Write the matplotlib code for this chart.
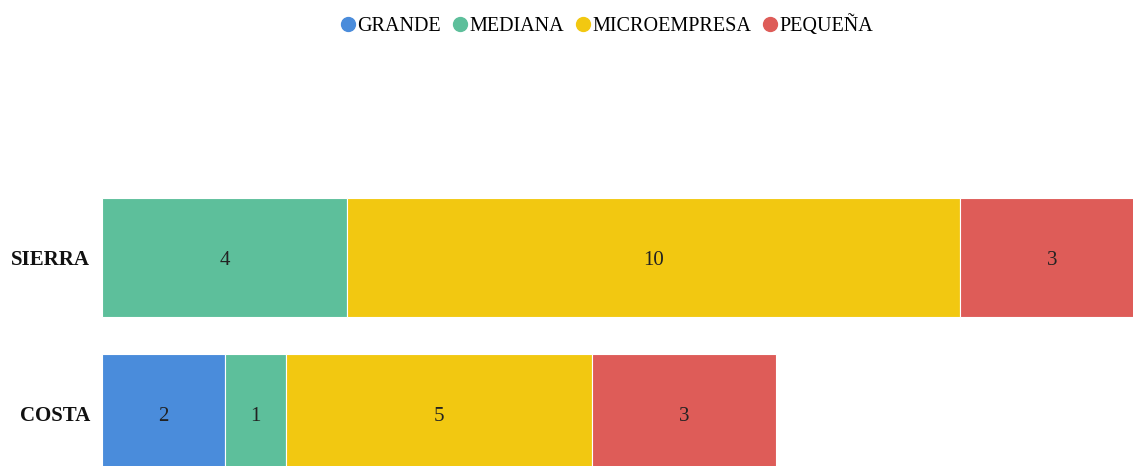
import matplotlib.pyplot as plt
from matplotlib.lines import Line2D

regions = ["COSTA", "SIERRA"]
series = ["GRANDE", "MEDIANA", "MICROEMPRESA", "PEQUEÑA"]
grande = [2, 0]
mediana = [1, 4]
micro = [5, 10]
pequena = [3, 3]
colors = ["#4A8CDB", "#5DBF9B", "#F2C811", "#DE5C58"]

plt.rcParams["font.family"] = ["Liberation Serif", "DejaVu Serif"]

W, H = 1133, 466
fig = plt.figure(figsize=(W / 100, H / 100), dpi=100)
# plot area runs past the right and bottom edges, like the source crop
ax = fig.add_axes([102 / W, (H - 491.5) / H, 1042 / W, 312 / H])

values = [grande, mediana, micro, pequena]
left = [0, 0]
for name, vals, col in zip(series, values, colors):
    bars = ax.barh(range(len(regions)), vals, left=left, height=0.76,
                   color=col, edgecolor="white", linewidth=0.8, label=name)
    for b, v in zip(bars, vals):
        if v > 0:
            ax.text(b.get_x() + b.get_width() / 2, b.get_y() + b.get_height() / 2 - 0.02,
                    str(v), ha="center", va="center", fontsize=15, color="#222222")
    left = [l + v for l, v in zip(left, vals)]

ax.set_xlim(0, 17)
ax.set_ylim(-0.5, 1.5)
ax.set_yticks(range(len(regions)))
ax.set_yticklabels(regions, fontsize=15, fontweight="bold", color="#111111")
ax.tick_params(axis="y", length=0, pad=8.5)
ax.set_xticks([])
for s in ax.spines.values():
    s.set_visible(False)

handles = [Line2D([], [], marker="o", linestyle="none", markersize=10,
                  markerfacecolor=c, markeredgecolor=c) for c in colors]
fig.legend(handles, series, loc="center", bbox_to_anchor=(606 / W, 1 - 26 / H),
           ncol=4, frameon=False, fontsize=14.5, handletextpad=0.0,
           columnspacing=0.5, handlelength=0.9)

fig.savefig("out.png", dpi=100)
